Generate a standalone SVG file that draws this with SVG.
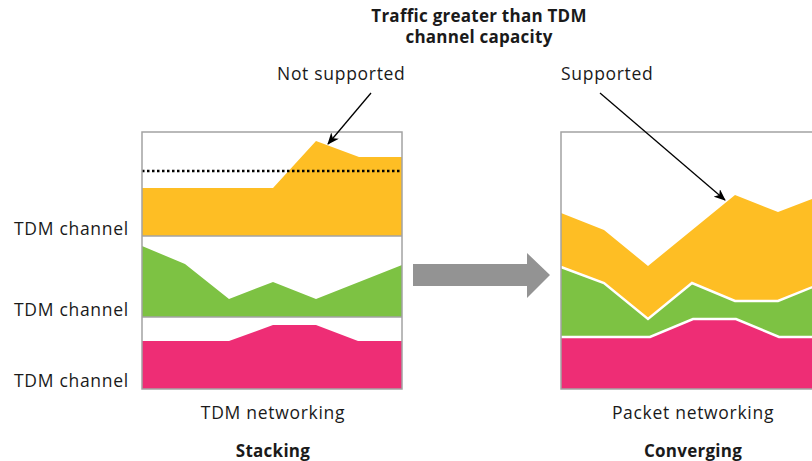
<svg xmlns="http://www.w3.org/2000/svg" width="812" height="461" viewBox="0 0 812 461">
<defs>
<style>
text{font-family:"Open Sans","Noto Sans","Liberation Sans",sans-serif;fill:#1a1a1a;font-size:17.5px;letter-spacing:0.7px}
.b{font-weight:bold;font-size:17px;letter-spacing:0.25px}
.m{text-anchor:middle}
.org{fill:#FEBE24}
.grn{fill:#7DC243}
.pnk{fill:#EE2D75}
.frame{fill:none;stroke:#A3A3A3;stroke-width:1.5}
.sep{stroke:#A3A3A3;stroke-width:1.5}
.wl{fill:none;stroke:#fff;stroke-width:2.5}
.ann{fill:none;stroke:#000;stroke-width:1.3;marker-end:url(#ah)}
</style>
<marker id="ah" viewBox="0 0 12 10" refX="11" refY="5" markerWidth="12" markerHeight="10" markerUnits="userSpaceOnUse" orient="auto">
<path d="M0,0 L12,5 L0,10 L3.5,5 z" fill="#000"/>
</marker>
</defs>
<rect width="812" height="461" fill="#fff"/>

<g id="title">
<text class="b m" x="479" y="22">Traffic greater than TDM</text>
<text class="b m" x="479" y="43">channel capacity</text>
</g>

<g id="tdm-chart">
<polygon class="org" points="142,188 273,188 316,141 359,157 402,157 402,236 142,236"/>
<line x1="142" y1="171" x2="402" y2="171" stroke="#000" stroke-width="2.5" stroke-dasharray="2.5 2.5"/>
<polygon class="grn" points="142,246 185,264 229,299 273,282 316,299 402,265 402,317 142,317"/>
<polygon class="pnk" points="142,341 229,341 273,325 316,325 358,341 402,341 402,389 142,389"/>
<line class="sep" x1="142" y1="236" x2="402" y2="236"/>
<line class="sep" x1="142" y1="317" x2="402" y2="317"/>
<rect class="frame" x="142" y="132" width="260" height="257"/>
</g>

<g id="packet-chart">
<polygon class="org" points="561,213 604,230 648,266 735,195 778,212 820,196 820,389 561,389"/>
<polygon class="grn" points="561,267 604,283 648,319 692,283 735,301 778,301 820,284 820,389 561,389"/>
<polygon class="pnk" points="561,337 650,337 693,319 736,319 779,337 820,337 820,389 561,389"/>
<polyline class="wl" points="561,267 604,283 648,319 692,283 735,301 778,301 820,284"/>
<polyline class="wl" points="561,337 650,337 693,319 736,319 779,337 820,337"/>
<rect class="frame" x="561" y="132" width="270" height="257"/>
</g>

<g id="channel-labels">
<text x="14" y="235">TDM channel</text>
<text x="14" y="316">TDM channel</text>
<text x="14" y="387">TDM channel</text>
</g>

<g id="big-arrow">
<polygon fill="#939393" points="413,264 527,264 527,253 550,275 527,298 527,286 413,286"/>
</g>

<g id="connectors">
<line class="ann" x1="371" y1="93" x2="328" y2="144"/>
<line class="ann" x1="600" y1="93" x2="725" y2="200"/>
</g>

<g id="annotations">
<text x="277" y="80">Not supported</text>
<text x="561" y="80">Supported</text>
</g>

<g id="captions">
<text class="m" x="273" y="419">TDM networking</text>
<text class="b m" x="273" y="457">Stacking</text>
<text class="m" x="693" y="419">Packet networking</text>
<text class="b m" x="693" y="457">Converging</text>
</g>
</svg>
